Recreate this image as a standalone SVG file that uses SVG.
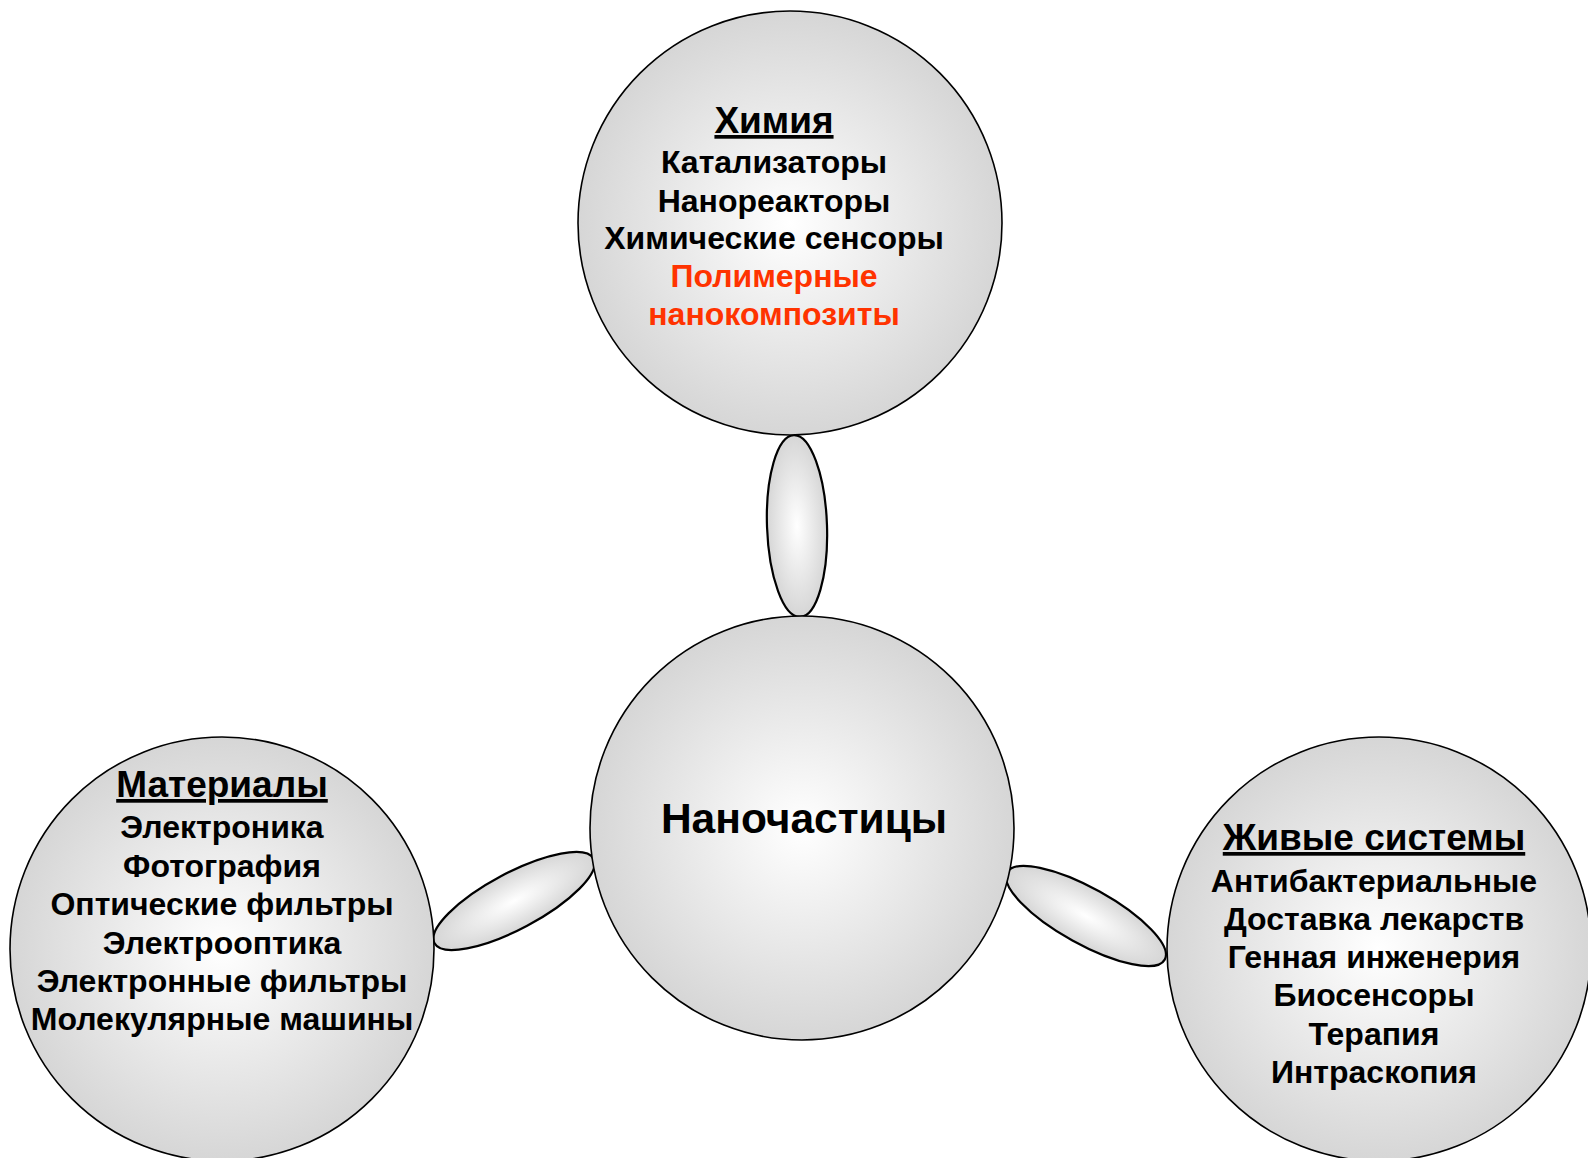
<svg xmlns="http://www.w3.org/2000/svg" width="1588" height="1158" viewBox="0 0 1588 1158">
<defs>
<radialGradient id="g" cx="50%" cy="50%" r="50%">
<stop offset="0" stop-color="#ffffff"/>
<stop offset="1" stop-color="#d6d6d6"/>
</radialGradient>
<style>
.c{fill:url(#g);stroke:#000;stroke-width:1.6}
.e{fill:url(#g);stroke:#000;stroke-width:2.2}
text{font-family:"Liberation Sans",Arial,sans-serif;font-weight:bold;text-anchor:middle;fill:#000}
.b{font-size:32px}
.t{font-size:37px;text-decoration:underline}
.r{fill:#ff3300}
.m{font-size:42.5px}
</style>
</defs>
<rect width="1588" height="1158" fill="#fff"/>
<g id="connectors">
<ellipse class="e" cx="797" cy="526" rx="30" ry="91" transform="rotate(-2 797 526)"/>
<ellipse class="e" cx="514" cy="901" rx="90" ry="28" transform="rotate(-28 514 901)"/>
<ellipse class="e" cx="1086" cy="916" rx="90" ry="28" transform="rotate(29 1086 916)"/>
</g>
<g id="chemistry">
<circle class="c" cx="790" cy="223" r="212"/>
<text class="t" x="774" y="133">Химия</text>
<text class="b" x="774" y="173">Катализаторы</text>
<text class="b" x="774" y="212">Нанореакторы</text>
<text class="b" x="774" y="249">Химические сенсоры</text>
<text class="b r" x="774" y="287">Полимерные</text>
<text class="b r" x="774" y="325">нанокомпозиты</text>
</g>
<g id="nanoparticles">
<circle class="c" cx="802" cy="828" r="212"/>
<text class="m" x="804" y="833">Наночастицы</text>
</g>
<g id="materials">
<circle class="c" cx="222" cy="949" r="212"/>
<text class="t" x="222" y="797">Материалы</text>
<text class="b" x="222" y="838">Электроника</text>
<text class="b" x="222" y="877">Фотография</text>
<text class="b" x="222" y="915">Оптические фильтры</text>
<text class="b" x="222" y="954">Электрооптика</text>
<text class="b" x="222" y="992">Электронные фильтры</text>
<text class="b" x="222" y="1030">Молекулярные машины</text>
</g>
<g id="living">
<circle class="c" cx="1379" cy="949" r="212"/>
<text class="t" x="1374" y="850">Живые системы</text>
<text class="b" x="1374" y="892">Антибактериальные</text>
<text class="b" x="1374" y="930">Доставка лекарств</text>
<text class="b" x="1374" y="968">Генная инженерия</text>
<text class="b" x="1374" y="1006">Биосенсоры</text>
<text class="b" x="1374" y="1045">Терапия</text>
<text class="b" x="1374" y="1083">Интраскопия</text>
</g>
</svg>
